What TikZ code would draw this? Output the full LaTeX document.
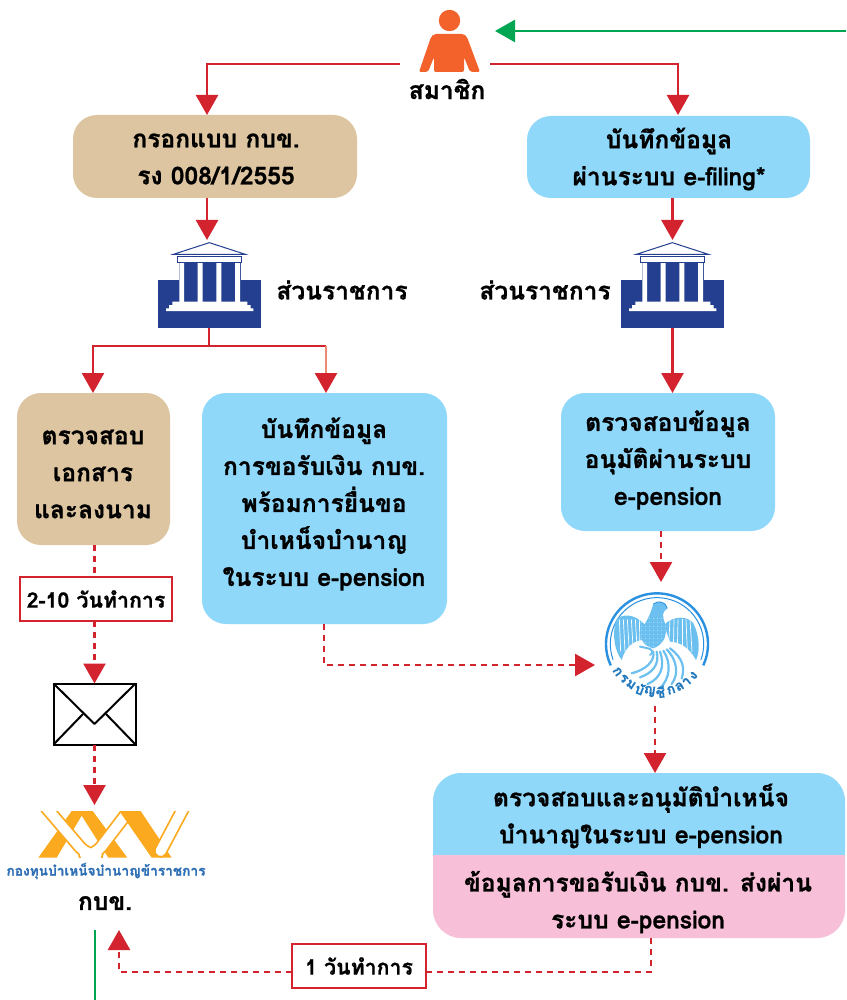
\documentclass[tikz,border=0pt]{standalone}
\usepackage{fontspec}
\setmainfont[Script=Thai,BoldFeatures={FakeBold=0.9}]{Loma}
\usetikzlibrary{arrows.meta}
\definecolor{redline}{HTML}{D2232F}
\definecolor{salmon}{HTML}{EE8A70}
\definecolor{greenline}{HTML}{00A651}
\definecolor{tanbox}{HTML}{DCC5A0}
\definecolor{bluebox}{HTML}{8FD8FA}
\definecolor{pinkbox}{HTML}{F8BFD8}
\definecolor{bankblue}{HTML}{243F8F}
\definecolor{person}{HTML}{F4622C}
\definecolor{kbk}{HTML}{FBAA1F}
\definecolor{kbkblue}{HTML}{2F6FB5}
\definecolor{garuda}{HTML}{6CC0F0}
\definecolor{garudad}{HTML}{2A90E0}
\tikzset{
  x=1pt,y=-1pt,
  every node/.style={font=\bfseries\fontsize{24.6}{37}\selectfont,text=black,align=center,inner sep=0pt,outer sep=0pt},
  flowbox/.style={rounded corners=24pt,minimum width=#1},
  solidarrow/.style={draw=redline,line width=2.5pt,-{Triangle[width=22pt,length=20pt,fill=redline]}},
  solidline/.style={draw=redline,line width=2.5pt},
  dashline/.style={draw=redline,line width=2.5pt,dash pattern=on 6pt off 5pt},
  dasharrow/.style={draw=redline,line width=2.5pt,dash pattern=on 6pt off 5pt,-{Triangle[width=22pt,length=20pt,fill=redline]}},
  labelbox/.style={draw=redline,line width=2.5pt,fill=white,font=\bfseries\fontsize{21.3}{24}\selectfont},
  bank/.pic={
    \begin{scope}[xscale=1/3,yscale=1/3]
      \fill[bankblue] (54,150) rectangle (362,295);
      \fill[bankblue] (118,97) rectangle (302,216);
      \fill[white] (118,97) rectangle (132,216) (173,97) rectangle (188,216) (229,97) rectangle (244,216) (285,97) rectangle (300,216);
      \draw[bankblue,line width=1pt,fill=white] (113,80) rectangle (304,97);
      \draw[bankblue,line width=1pt,fill=white,line join=miter] (100,73) -- (208,38) -- (316,73) -- cycle;
      \fill[white] (97,215) -- (322,215) -- (322,225) -- (332,225) -- (332,235) -- (340,235) -- (340,243) -- (78,243) -- (78,235) -- (87,235) -- (87,225) -- (97,225) -- cycle;
    \end{scope}
  },
}
\begin{document}
\begin{tikzpicture}
\useasboundingbox (0,0) rectangle (846,1000);
\fill[white] (0,0) rectangle (846,1000);

% fills of the two-colour box
\fill[bluebox,rounded corners=28pt] (433,773) -- (845,773) -- (845,880) -- (433,880) -- cycle;
\fill[pinkbox,rounded corners=28pt] (433,830) -- (845,830) -- (845,938) -- (433,938) -- cycle;
\fill[pinkbox] (433,855) rectangle (845,885);
\fill[bluebox] (461,773) rectangle (817,800);
\fill[bluebox] (433,800) rectangle (845,855);

% person
\fill[person] (449.5,20.5) circle[radius=10.7];
\fill[person,rounded corners=2pt] (434,34) -- (464,34) -- (467,37) -- (480,72) -- (470,72) -- (464,57) -- (464,72) -- (434,72) -- (434,57) -- (428,72) -- (419,72) -- (431,37) -- cycle;
\node (member) at (447,89) {สมาชิก};
\coordinate (memberL) at (400,64);
\coordinate (memberR) at (490,64);
\coordinate (memberG) at (495,31);
\coordinate (greenIn) at (846,31);

% boxes
\node[flowbox=284pt,fill=tanbox,minimum height=83pt] (fill) at (215,156.5) {};
\node[flowbox=283pt,fill=bluebox,minimum height=82pt] (efile) at (668.5,157) {};
\node[flowbox=153pt,fill=tanbox,minimum height=152pt] (docs) at (93.5,469) {};
\node[flowbox=245pt,fill=bluebox,minimum height=231pt] (record) at (324.5,508.5) {};
\node[flowbox=214pt,fill=bluebox,minimum height=138pt] (verify) at (668,462) {};
\node[minimum width=412pt,minimum height=82pt] (approve) at (639,814) {};
\node[minimum width=412pt,minimum height=83pt] (send) at (639,896.5) {};
% box texts
\node (fillT) at (216,159) {กรอกแบบ กบข.\\รง 008/1/2555};
\node (efileT) at (669,159) {บันทึกข้อมูล\\ผ่านระบบ e-filing*};
\node (docsT) at (93,474) {ตรวจสอบ\\เอกสาร\\และลงนาม};
\node (recordT) at (324,504) {บันทึกข้อมูล\\การขอรับเงิน กบข.\\พร้อมการยื่นขอ\\บำเหน็จบำนาญ\\ในระบบ e-pension};
\node (verifyT) at (668,460) {ตรวจสอบข้อมูล\\อนุมัติผ่านระบบ\\e-pension};
\node (approveT) at (641,816) {ตรวจสอบและอนุมัติบำเหน็จ\\บำนาญในระบบ e-pension};
\node (sendT) at (638,902) {ข้อมูลการขอรับเงิน กบข. ส่งผ่าน\\ระบบ e-pension};

% banks
\node[minimum width=103pt,minimum height=88pt] (bankA) at (209.5,284) {};
\node[minimum width=103pt,minimum height=88pt] (bankB) at (672.5,284) {};
\pic at (140,230) {bank};
\pic at (603,230) {bank};
\node (labA) at (342,290) {ส่วนราชการ};
\node (labB) at (545,290) {ส่วนราชการ};

% envelope
\node[draw=black,line width=2pt,minimum width=82pt,minimum height=61pt] (mail) at (94.5,714) {};
\draw[black,line width=2pt,line join=round] (mail.north west) -- (94.5,724) -- (mail.north east);
\draw[black,line width=2pt] (mail.south west) -- (83,714) (mail.south east) -- (106,714);

% treasury seal
\node[minimum width=104pt,minimum height=124pt] (seal) at (656,644) {};
\begin{scope}[shift={(590,580)},xscale=1/3,yscale=1/3]
  \draw[garudad,line width=2.4pt] plot[smooth,domain=155:385,samples=40] ({201+153*cos(\x)},{192+152*sin(\x)});
  \draw[garudad,line width=1pt] plot[smooth,domain=160:380,samples=40] ({201+140*cos(\x)},{192+139*sin(\x)});
  % wings
  \fill[garuda] (165,135) .. controls (135,100) and (95,100) .. (78,120) .. controls (65,165) and (75,215) .. (95,240) .. controls (105,205) and (125,185) .. (155,180) -- cycle;
  \fill[garuda] (222,135) .. controls (250,105) and (295,108) .. (310,130) .. controls (330,170) and (330,215) .. (318,240) .. controls (300,205) and (270,185) .. (240,185) -- cycle;
  \foreach \a/\b in {88/92,100/105,112/118,124/130,136/142,148/150}{
    \draw[white,line width=.7pt] (\a,118) -- (\b,215);}
  \foreach \a/\b in {240/235,252/250,264/262,276/276,288/292,300/306}{
    \draw[white,line width=.7pt] (\a,118) -- (\b,215);}
  % body and head
  \fill[garuda] (190,72) .. controls (205,60) and (228,65) .. (232,85) .. controls (218,95) and (215,105) .. (225,130) .. controls (235,165) and (220,195) .. (190,205) .. controls (160,200) and (145,170) .. (150,145) .. controls (170,130) and (180,105) .. (190,72) -- cycle;
  \foreach \yy in {115,127,...,199}{\foreach \xx in {155,167,...,230}{\fill[white] (\xx,\yy) circle[radius=1.1];}}
  \draw[garudad,line width=.8pt] (190,72) .. controls (205,60) and (228,65) .. (232,85);
  % tail feathers
  \draw[garuda,line width=2pt,line cap=round] (150,200) .. controls (175,205) and (200,208) .. (180,225);
  \draw[garuda,line width=2.2pt,line cap=round] (190,215) .. controls (195,245) and (165,270) .. (125,280);
  \draw[garuda,line width=2.2pt,line cap=round] (200,215) .. controls (210,255) and (185,280) .. (150,292);
  \draw[garuda,line width=2.2pt,line cap=round] (210,215) .. controls (225,255) and (215,295) .. (172,312);
  \draw[garuda,line width=2.2pt,line cap=round] (220,212) .. controls (245,250) and (240,295) .. (210,325);
  \draw[garuda,line width=2.2pt,line cap=round] (230,208) .. controls (265,245) and (265,285) .. (245,312);
  \draw[garuda,line width=2.2pt,line cap=round] (240,205) .. controls (280,235) and (285,265) .. (275,295);
\end{scope}
\foreach \g/\a in {ก/145,ร/134,ม/123,บั/111,ญ/99,ชี/86,ก/73,ล/62,า/52,ง/41}{
  \pgfmathsetmacro{\px}{657+48*cos(\a)}
  \pgfmathsetmacro{\py}{644+48*sin(\a)}
  \pgfmathsetmacro{\rt}{90-\a}
  \node[font=\bfseries\fontsize{14}{14}\selectfont,text=garudad!85!black,rotate=\rt] at (\px,\py) {\g};
}

% KBK logo
\node[minimum width=200pt,minimum height=50pt] (kbkmark) at (106,835) {};
\begin{scope}[shift={(30,805)},xscale=1/3,yscale=1/3]
  \clip (0,18) rectangle (500,158);
  \fill[kbk] (25,158) -- (125,18) -- (188,18) -- (292,158) -- (235,158) -- (155,32) -- (80,158) -- cycle;
  \draw[kbk,line width=13.5pt,line join=round,rounded corners=10pt] (47,6) -- (170,150) -- (195,150) -- (305,6);
  \draw[white,line width=10pt,line join=round,rounded corners=10pt] (47,6) -- (170,150) -- (195,150) -- (305,6);
  \fill[kbk] (268,18) -- (332,18) -- (425,158) -- (365,158) -- cycle;
  \draw[kbk,line width=13.5pt,line cap=round] (462,6) -- (392,138);
  \draw[white,line width=10pt,line cap=round] (462,6) -- (392,138);
\end{scope}
\node[font=\bfseries\fontsize{13.7}{13}\selectfont,text=kbkblue] (kbktext) at (106,871) {กองทุนบำเหน็จบำนาญข้าราชการ};
\node (kbkname) at (105,903) {กบข.};

% label boxes
\node[labelbox,minimum width=152pt,minimum height=44pt] (days) at (96,599) {2-10 วันทำการ};
\node[labelbox,minimum width=134pt,minimum height=44pt] (oneday) at (359,966) {1 วันทำการ};

% connectors
\coordinate (j1) at (207,64);
\coordinate (j2) at (678,64);
\coordinate (fillIn) at (207,115);
\coordinate (efileIn) at (678,115);
\draw[solidarrow] (memberL) -- (j1) -- (fillIn);
\draw[solidarrow] (memberR) -- (j2) -- (efileIn);
\draw[draw=greenline,line width=2.5pt,-{Triangle[width=22pt,length=20pt,fill=greenline]}] (greenIn) -- (memberG);
\draw[solidarrow] (fill.south -| j1) -- (bankA.north -| j1);
\draw[solidarrow] (efile.south -| bankB) -- (bankB.north);
\coordinate (fork) at (209,346);
\coordinate (forkL) at (93,346);
\coordinate (forkR) at (326,346);
\draw[solidline] (bankA.south -| fork) -- (fork);
\draw[solidarrow] (fork) -- (forkL) -- (docs.north -| forkL);
\draw[solidline] (fork) -- (forkR);
\draw[draw=salmon,line width=2.5pt,-{Triangle[width=22pt,length=20pt,fill=redline,color=redline]}] (forkR) -- (record.north -| forkR);
\draw[solidarrow] (bankB.south) -- (verify.north -| bankB);
\coordinate (v1) at (661,531);
\draw[dasharrow] (v1) -- (seal.north -| v1);
\coordinate (r1) at (324,624);
\coordinate (r2) at (324,665);
\coordinate (r3) at (595,665);
\draw[dasharrow] (r1) -- (r2) -- (r3);
\coordinate (s1) at (655,706);
\draw[dasharrow] (s1) -- (approve.north -| s1);
\coordinate (d0) at (94.5,545);
\draw[dashline] (d0) -- (days.north -| d0);
\draw[dasharrow] (days.south -| d0) -- (mail.north);
\draw[dasharrow] (mail.south) -- (94.5,805);
\coordinate (o1) at (651,938);
\coordinate (o2) at (651,972);
\coordinate (o3) at (119,972);
\coordinate (o4) at (119,930);
\draw[dashline] (o1) -- (o2) -- (oneday.east |- o2);
\draw[dasharrow] (oneday.west |- o2) -- (o3) -- (o4);
\coordinate (g1) at (95,930);
\coordinate (g2) at (95,1000);
\draw[greenline,line width=2.5pt] (g1) -- (g2);
\end{tikzpicture}
\end{document}
